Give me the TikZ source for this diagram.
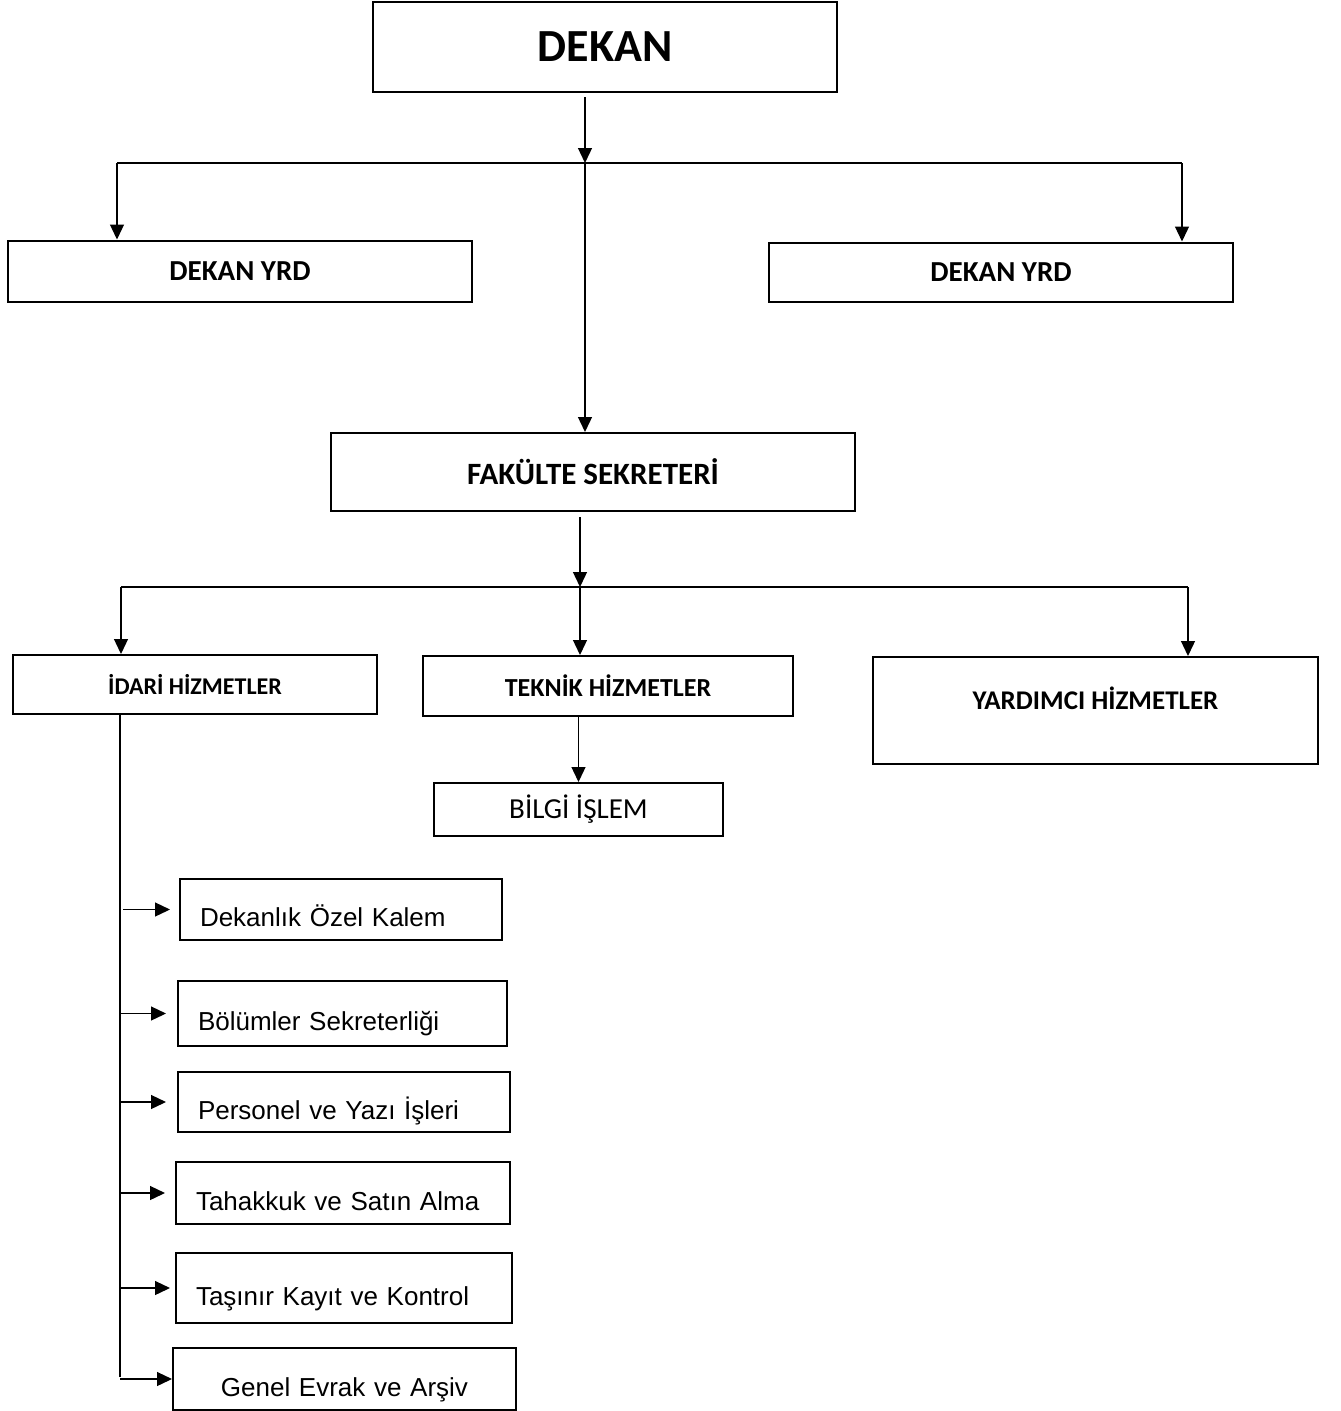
\documentclass[tikz,border=0pt]{standalone}
\usepackage{fontspec}
\setmainfont{Carlito}
\newfontfamily\arialfont{Liberation Sans}
\usetikzlibrary{arrows.meta,positioning}

\begin{document}
\begin{tikzpicture}[
        x=1pt, y=-1pt,
        >={Triangle[length=15pt, width=14pt]},
        line width=1.3pt,
        head/.style={draw, line width=2pt, inner sep=0pt, font=\bfseries\fontsize{29}{31}\selectfont},
        hizmet/.style={head, font=\bfseries\fontsize{26}{28}\selectfont},
        unit/.style={draw, line width=2pt, anchor=west, inner xsep=20pt, align=left,
          text height=34pt, text depth=0pt, font=\arialfont\fontsize{26}{28}\selectfont}
        ]
        \useasboundingbox (0,0) rectangle (1341,1411);

        \node[head, font=\bfseries\fontsize{46}{48}\selectfont, minimum width=464pt, minimum height=90pt]
        (dekan) at (605,47) {DEKAN};

        \node[head, minimum width=464pt, minimum height=61pt] (yrdL) at (240,271) {DEKAN YRD};
        \node[head, minimum width=464pt, minimum height=59pt] (yrdR) at (1001,272) {DEKAN YRD};

        \node[head, font=\bfseries\fontsize{31}{33}\selectfont, minimum width=524pt, minimum height=78pt]
        (sekreter) at (593,472) {FAKÜLTE SEKRETERİ};

        \node[hizmet, font=\bfseries\fontsize{24}{26}\selectfont, minimum width=364pt, minimum height=59pt]
        (idari) at (195,684.5) {İDARİ HİZMETLER};
        \node[hizmet, minimum width=370pt, minimum height=60pt] (teknik) at (608,686) {TEKNİK HİZMETLER};
        \node[hizmet, font=\bfseries\fontsize{27}{29}\selectfont, minimum width=445pt, minimum height=107pt,
        text height=18pt, text depth=21pt] (yardimci) at (1095.5,710.5) {YARDIMCI HİZMETLER};

        \node[head, font=\fontsize{29}{31}\selectfont, minimum width=289pt, minimum height=53pt]
        (bilgi) at (578.5,809.5) {BİLGİ İŞLEM};

        % birimler
        \node[unit, text width=282pt, minimum height=61pt] (ozelkalem) at (179,909.5) {Dekanlık Özel Kalem};
        \node[unit, text width=289pt, minimum height=65pt] (bolumler) at (177,1013.5) {Bölümler Sekreterliği};
        \node[unit, text width=292pt, minimum height=60pt] (personel) at (177,1102) {Personel ve Yazı İşleri};
        \node[unit, text width=294pt, minimum height=62pt] (tahakkuk) at (175,1193) {Tahakkuk ve Satın Alma};
        \node[unit, text width=296pt, minimum height=70pt] (tasinir) at (175,1288) {Taşınır Kayıt ve Kontrol};
        \node[unit, text width=303pt, minimum height=62pt, align=center] (evrak) at (172,1379) {Genel Evrak ve Arşiv};

        % Edges
        \coordinate (busA) at (585,163);
        \coordinate (busAL) at (117,163);
        \coordinate (busAR) at (1182,163);
        \coordinate (busB) at (580,587);
        \coordinate (busBL) at (121,587);
        \coordinate (busBR) at (1188,587);
        \coordinate (trunk) at (120,1377);

        \draw (busAL) -- (busAR);
        \draw[->, shorten <=4pt] (dekan.south -| busA) -- (busA);
        \draw[->] (busAL) -- (yrdL.north -| busAL);
        \draw[->] (busAR) -- (yrdR.north -| busAR);
        \draw[->] (busA) -- (sekreter.north -| busA);

        \draw (busBL) -- (busBR);
        \draw[->, shorten <=5pt] (sekreter.south -| busB) -- (busB);
        \draw[->] (busBL) -- (idari.north -| busBL);
        \draw[->] (busB) -- (teknik.north -| busB);
        \draw[->] (busBR) -- (yardimci.north -| busBR);
        \draw[->] (teknik.south -| bilgi.north) -- (bilgi.north);

        \draw (idari.south -| trunk) -- (trunk);
        \foreach \k/\s/\g in {ozelkalem/9/3, bolumler/11/0, personel/11/0, tahakkuk/10/0, tasinir/5/0, evrak/0/0}
          \draw[->, shorten >=\s pt, shorten <=\g pt] (\k.west -| trunk) -- (\k.west);

\end{tikzpicture}
\end{document}
